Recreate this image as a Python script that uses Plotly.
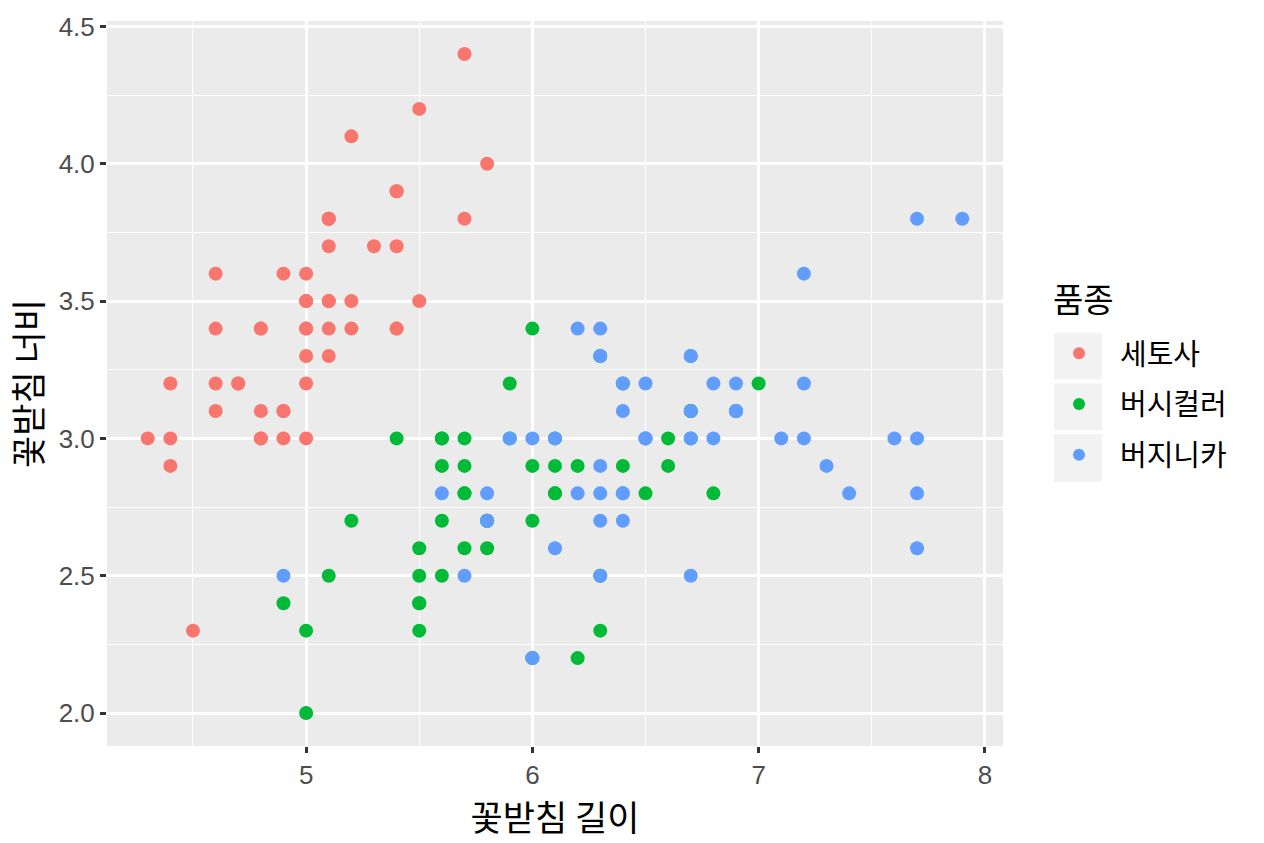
import plotly.graph_objects as go

# iris sepal measurements (R's iris), by species
setosa_len = [5.1, 4.9, 4.7, 4.6, 5.0, 5.4, 4.6, 5.0, 4.4, 4.9, 5.4, 4.8, 4.8, 4.3, 5.8, 5.7, 5.4,
              5.1, 5.7, 5.1, 5.4, 5.1, 4.6, 5.1, 4.8, 5.0, 5.0, 5.2, 5.2, 4.7, 4.8, 5.4, 5.2, 5.5,
              4.9, 5.0, 5.5, 4.9, 4.4, 5.1, 5.0, 4.5, 4.4, 5.0, 5.1, 4.8, 5.1, 4.6, 5.3, 5.0]
setosa_wid = [3.5, 3.0, 3.2, 3.1, 3.6, 3.9, 3.4, 3.4, 2.9, 3.1, 3.7, 3.4, 3.0, 3.0, 4.0, 4.4, 3.9,
              3.5, 3.8, 3.8, 3.4, 3.7, 3.6, 3.3, 3.4, 3.0, 3.4, 3.5, 3.4, 3.2, 3.1, 3.4, 4.1, 4.2,
              3.1, 3.2, 3.5, 3.6, 3.0, 3.4, 3.5, 2.3, 3.2, 3.5, 3.8, 3.0, 3.8, 3.2, 3.7, 3.3]
versi_len = [7.0, 6.4, 6.9, 5.5, 6.5, 5.7, 6.3, 4.9, 6.6, 5.2, 5.0, 5.9, 6.0, 6.1, 5.6, 6.7, 5.6,
             5.8, 6.2, 5.6, 5.9, 6.1, 6.3, 6.1, 6.4, 6.6, 6.8, 6.7, 6.0, 5.7, 5.5, 5.5, 5.8, 6.0,
             5.4, 6.0, 6.7, 6.3, 5.6, 5.5, 5.5, 6.1, 5.8, 5.0, 5.6, 5.7, 5.7, 6.2, 5.1, 5.7]
versi_wid = [3.2, 3.2, 3.1, 2.3, 2.8, 2.8, 3.3, 2.4, 2.9, 2.7, 2.0, 3.0, 2.2, 2.9, 2.9, 3.1, 3.0,
             2.7, 2.2, 2.5, 3.2, 2.8, 2.5, 2.8, 2.9, 3.0, 2.8, 3.0, 2.9, 2.6, 2.4, 2.4, 2.7, 2.7,
             3.0, 3.4, 3.1, 2.3, 3.0, 2.5, 2.6, 3.0, 2.6, 2.3, 2.7, 3.0, 2.9, 2.9, 2.5, 2.8]
virg_len = [6.3, 5.8, 7.1, 6.3, 6.5, 7.6, 4.9, 7.3, 6.7, 7.2, 6.5, 6.4, 6.8, 5.7, 5.8, 6.4, 6.5,
            7.7, 7.7, 6.0, 6.9, 5.6, 7.7, 6.3, 6.7, 7.2, 6.2, 6.1, 6.4, 7.2, 7.4, 7.9, 6.4, 6.3,
            6.1, 7.7, 6.3, 6.4, 6.0, 6.9, 6.7, 6.9, 5.8, 6.8, 6.7, 6.7, 6.3, 6.5, 6.2, 5.9]
virg_wid = [3.3, 2.7, 3.0, 2.9, 3.0, 3.0, 2.5, 2.9, 2.5, 3.6, 3.2, 2.7, 3.0, 2.5, 2.8, 3.2, 3.0,
            3.8, 2.6, 2.2, 3.2, 2.8, 2.8, 2.7, 3.3, 3.2, 2.8, 3.0, 2.8, 3.0, 2.8, 3.8, 2.8, 2.8,
            2.6, 3.0, 3.4, 3.1, 3.0, 3.1, 3.1, 3.1, 2.7, 3.2, 3.3, 3.0, 2.5, 3.0, 3.4, 3.0]

species = ["세토사", "버시컬러", "버지니카"]
colors = ["#F8766D", "#00BA38", "#619CFF"]
x_ticks = [5, 6, 7, 8]
y_ticks = [2.0, 2.5, 3.0, 3.5, 4.0, 4.5]

fig = go.Figure()
for name, xs, ys, col in zip(species,
                             [setosa_len, versi_len, virg_len],
                             [setosa_wid, versi_wid, virg_wid],
                             colors):
    fig.add_trace(go.Scatter(
        x=xs, y=ys, mode="markers", name=name, legendgroup=name,
        marker=dict(color=col, size=14, line=dict(width=0)),
    ))

# ggplot-like limits with 5% expansion
xmin, xmax = 4.3, 7.9
ymin, ymax = 2.0, 4.4
xpad = (xmax - xmin) * 0.05
ypad = (ymax - ymin) * 0.05

kr = "Noto Sans CJK KR, sans-serif"
tick_font = dict(family="Liberation Sans, Arial, sans-serif", size=26, color="#4D4D4D")
title_font = dict(family=kr, size=35, color="black")

axis_common = dict(
    showgrid=True, gridcolor="white", gridwidth=3, zeroline=False,
    ticks="outside", ticklen=6, tickwidth=2.5, tickcolor="#333333",
    tickfont=tick_font, showline=False,
    minor=dict(showgrid=True, gridcolor="white", gridwidth=1.4, ticks=""),
)

fig.update_xaxes(range=[xmin - xpad, xmax + xpad], tickvals=x_ticks,
                 ticktext=[str(v) for v in x_ticks],
                 title=dict(text="꽃받침 길이", font=title_font, standoff=3),
                 **axis_common)
fig.update_xaxes(minor=dict(dtick=0.5, tick0=4.5))
fig.update_yaxes(range=[ymin - ypad, ymax + ypad], tickvals=y_ticks,
                 ticktext=[f"{v:.1f}" for v in y_ticks],
                 title=dict(text="꽃받침 너비", font=title_font, standoff=5),
                 **axis_common)
fig.update_yaxes(minor=dict(dtick=0.25, tick0=2.25))

# grey legend key backgrounds (ggplot style)
key_boxes = [(330, 377), (381, 428), (432, 480)]
shapes = []
for top, bot in key_boxes:
    shapes.append(dict(type="rect", xref="paper", yref="paper",
                       x0=(1054 - 107) / 896, x1=(1102 - 107) / 896,
                       y0=(746 - bot) / 730, y1=(746 - top) / 730,
                       fillcolor="#F2F2F2", line=dict(width=0), layer="below"))

fig.update_layout(
    width=1264, height=843,
    margin=dict(l=107, r=261, t=16, b=97),
    plot_bgcolor="#EBEBEB", paper_bgcolor="white",
    shapes=shapes,
    annotations=[dict(text="품종", xref="paper", yref="paper",
                      x=(1051 - 107) / 896, y=(746 - 295) / 730,
                      xanchor="left", yanchor="middle", showarrow=False,
                      font=dict(family=kr, size=33, color="black"))],
    legend=dict(
        font=dict(family=kr, size=29, color="black"),
        x=(1038 - 107) / 896, xanchor="left", y=(746 - 325) / 730, yanchor="top",
        bgcolor="rgba(0,0,0,0)", tracegroupgap=10, itemsizing="constant",
        itemwidth=72,
    ),
)

fig.write_html("out.html", post_script="document.body.style.margin='0';",
               config={"displayModeBar": False})
